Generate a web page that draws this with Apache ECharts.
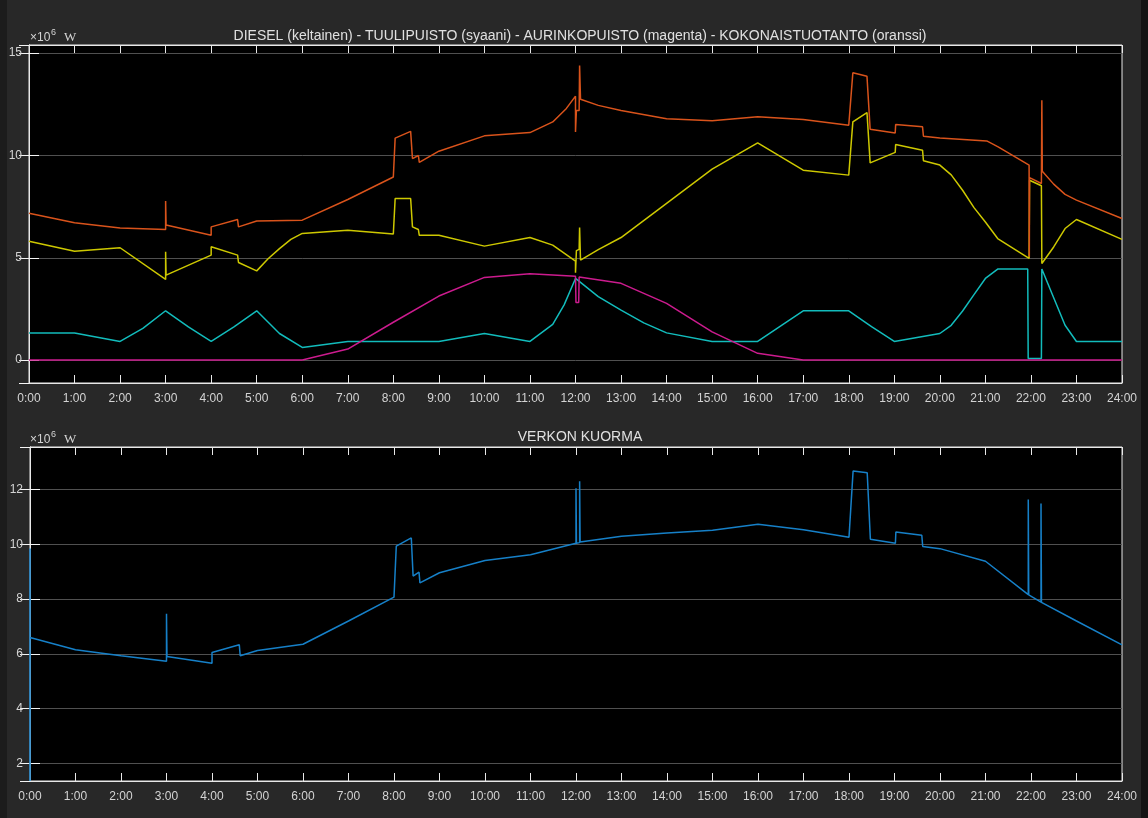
<!DOCTYPE html>
<html>
<head>
<meta charset="utf-8">
<title>Tuotanto ja verkon kuorma</title>
<script src="https://cdn.jsdelivr.net/npm/echarts@6/dist/echarts.min.js"></script>
<style>
  html, body { margin: 0; padding: 0; background: #282828; }
  #chart { width: 1148px; height: 818px; }
</style>
</head>
<body>
<div id="chart"></div>
<script>
// Time in hours (0..24), power in units of 10^6 W.

// DIESEL (keltainen)
const dieselT = [0, 1, 2, 3.0, 3.0, 3.01, 4.0, 4.0, 4.58, 4.6, 5.0, 5.25, 5.5, 5.75, 6.0, 7.0, 8.0, 8.04, 8.38, 8.42, 8.55, 8.57, 9.0, 10.0, 11.0, 11.5, 12.0, 12.0, 12.02, 12.08, 12.09, 12.11, 12.5, 13.0, 14.0, 15.0, 16.0, 17.0, 18.0, 18.09, 18.4, 18.47, 19.02, 19.03, 19.62, 19.64, 20.0, 20.25, 20.5, 20.75, 21.0, 21.27, 21.96, 21.97, 22.23, 22.24, 22.5, 22.75, 23.0, 24.0];
const dieselV = [5.81, 5.32, 5.49, 3.94, 5.29, 4.15, 5.13, 5.54, 5.13, 4.77, 4.36, 4.95, 5.45, 5.9, 6.19, 6.35, 6.16, 7.9, 7.9, 6.51, 6.38, 6.1, 6.1, 5.57, 5.99, 5.62, 4.84, 4.27, 5.35, 5.41, 6.48, 4.89, 5.4, 5.99, 7.66, 9.33, 10.62, 9.28, 9.04, 11.64, 12.1, 9.64, 10.15, 10.54, 10.26, 9.74, 9.53, 9.05, 8.3, 7.45, 6.75, 5.94, 4.97, 8.79, 8.52, 4.72, 5.53, 6.43, 6.87, 5.9];

// TUULIPUISTO (syaani)
const windT = [0, 1, 2, 2.5, 3, 3.5, 4, 4.5, 5, 5.5, 6, 7, 8, 9, 10, 11, 11.5, 11.75, 12.0, 12.5, 13, 13.5, 14, 15, 16, 16.5, 17, 18, 18.5, 19, 20, 20.25, 20.5, 20.75, 21.0, 21.27, 21.93, 21.94, 22.23, 22.24, 22.5, 22.75, 23, 24];
const windV = [1.32, 1.32, 0.91, 1.55, 2.41, 1.62, 0.91, 1.62, 2.41, 1.3, 0.62, 0.91, 0.91, 0.91, 1.3, 0.91, 1.75, 2.7, 3.99, 3.1, 2.44, 1.82, 1.33, 0.91, 0.91, 1.66, 2.41, 2.41, 1.63, 0.91, 1.3, 1.7, 2.4, 3.2, 3.99, 4.45, 4.45, 0.08, 0.08, 4.45, 3.05, 1.7, 0.91, 0.91];

// AURINKOPUISTO (magenta)
const solarT = [0, 6.0, 7.0, 8.0, 9.0, 10.0, 11.0, 12.0, 12.01, 12.07, 12.08, 13.0, 14.0, 15.0, 15.5, 16.0, 17.0, 24.0];
const solarV = [0, 0, 0.54, 1.85, 3.13, 4.04, 4.22, 4.1, 2.82, 2.82, 4.06, 3.75, 2.77, 1.38, 0.85, 0.33, 0, 0];

// KOKONAISTUOTANTO (oranssi)
const totalT = [0, 1, 2, 3.0, 3.0, 3.01, 4.0, 4.0, 4.58, 4.6, 5.0, 6.0, 7.0, 8.0, 8.04, 8.38, 8.42, 8.55, 8.57, 9.0, 10.0, 11.0, 11.5, 11.8, 12.0, 12.0, 12.02, 12.08, 12.09, 12.11, 12.5, 13.0, 14.0, 15.0, 16.0, 17.0, 18.0, 18.09, 18.4, 18.47, 19.02, 19.03, 19.62, 19.64, 20.0, 21.03, 21.28, 21.96, 21.965, 21.97, 22.23, 22.24, 22.25, 22.5, 22.75, 23.0, 24.0];
const totalV = [7.18, 6.71, 6.46, 6.38, 7.77, 6.6, 6.1, 6.51, 6.87, 6.51, 6.8, 6.84, 7.85, 8.95, 10.85, 11.18, 9.85, 10.0, 9.66, 10.21, 10.96, 11.12, 11.64, 12.3, 12.9, 11.15, 12.2, 12.2, 14.4, 12.75, 12.45, 12.2, 11.8, 11.7, 11.89, 11.76, 11.48, 14.04, 13.87, 11.28, 11.1, 11.51, 11.4, 10.94, 10.85, 10.71, 10.42, 9.53, 5.05, 8.92, 8.63, 12.7, 9.23, 8.6, 8.1, 7.82, 6.92];

// VERKON KUORMA
const loadT = [0, 0, 0, 1, 2, 3, 3, 3.01, 4, 4, 4.6, 4.62, 5, 6, 7, 8, 8.05, 8.38, 8.42, 8.55, 8.57, 9, 10, 11, 12, 12, 12.01, 12.08, 12.08, 12.09, 13, 14, 15, 16, 17, 18, 18.09, 18.4, 18.47, 19.02, 19.03, 19.6, 19.62, 20, 21, 21.94, 21.94, 21.95, 22.22, 22.22, 22.23, 23, 24];
const loadV = [9.85, 1.36, 6.6, 6.15, 5.93, 5.73, 7.46, 5.9, 5.66, 6.05, 6.33, 5.93, 6.12, 6.35, 7.2, 8.07, 9.93, 10.23, 8.84, 8.98, 8.59, 8.96, 9.41, 9.62, 10.04, 12.04, 10.04, 10.06, 12.3, 10.08, 10.29, 10.41, 10.51, 10.73, 10.53, 10.26, 12.67, 12.61, 10.18, 10.04, 10.45, 10.33, 9.92, 9.84, 9.38, 8.16, 11.63, 8.15, 7.89, 11.49, 7.88, 7.2, 6.33];

// Axis settings
const hourTicks = 1;
const topRange = [-1.12, 15.4];
const bottomRange = [1.36, 13.55];

const pairs = (t, v) => t.map((x, i) => [x, v[i]]);

const TXT = '#d4d4d4';
const AXIS = '#e8e8e8';
const GRIDLINE = '#505050';
const FONT = '"Liberation Sans", Arial, sans-serif';

function xAxes(gi) {
  const base = {
    type: 'value', gridIndex: gi, min: 0, max: 24, interval: hourTicks,
    axisLine: { show: true, onZero: false, lineStyle: { color: AXIS, width: 1 } },
    axisTick: { show: true, inside: true, length: 8, lineStyle: { color: AXIS } },
    splitLine: { show: false }
  };
  return [
    Object.assign({}, base, {
      position: 'bottom',
      axisLabel: { color: TXT, fontSize: 12, fontFamily: FONT, margin: 10, formatter: v => v + ':00' }
    }),
    Object.assign({}, base, { position: 'top', axisLabel: { show: false } })
  ];
}

function yAxes(gi, range, split, step) {
  const base = {
    type: 'value', gridIndex: gi, min: range[0], max: range[1], splitNumber: split,
    axisLine: { show: true, lineStyle: { color: AXIS, width: 1 } },
    axisTick: { show: true, inside: true, length: 10, lineStyle: { color: '#f4f4f4' } }
  };
  const isMajor = v => Math.abs(v / step - Math.round(v / step)) < 1e-6;
  return [
    Object.assign({}, base, {
      position: 'left',
      splitLine: { show: true, lineStyle: { color: GRIDLINE, width: 1 } },
      axisLabel: { color: TXT, fontSize: 12, fontFamily: FONT, margin: 7,
                   showMinLabel: false, showMaxLabel: false,
                   formatter: v => (isMajor(v) ? String(Math.round(v)) : '') }
    }),
    Object.assign({}, base, { position: 'right', splitLine: { show: false }, axisLabel: { show: false } })
  ];
}

function line(name, xi, yi, data, color) {
  return {
    name, type: 'line', xAxisIndex: xi, yAxisIndex: yi, data,
    showSymbol: false, symbol: 'none', smooth: false,
    lineStyle: { color, width: 1.5 }, itemStyle: { color },
    emphasis: { disabled: true }, silent: true, clip: true
  };
}

const chart = echarts.init(document.getElementById('chart'), null, { renderer: 'canvas' });

const unitLabel = (x, y) => [
  { type: 'text', left: x, top: y + 4, style: { text: '×10', fill: TXT, font: '12px ' + FONT } },
  { type: 'text', left: x + 21, top: y, style: { text: '6', fill: TXT, font: '9px ' + FONT } },
  { type: 'text', left: x + 34, top: y + 3, style: { text: 'W', fill: TXT, font: '13px "Liberation Serif", "DejaVu Serif", serif' } }
];

chart.setOption({
  backgroundColor: '#282828',
  animation: false,
  title: [
    { text: 'DIESEL (keltainen) - TUULIPUISTO (syaani) - AURINKOPUISTO (magenta) - KOKONAISTUOTANTO (oranssi)',
      left: 575, top: 24, textAlign: 'center',
      textStyle: { color: '#e0e0e0', fontSize: 14, fontWeight: 'normal', fontFamily: FONT } },
    { text: 'VERKON KUORMA', left: 575, top: 425, textAlign: 'center',
      textStyle: { color: '#e0e0e0', fontSize: 14, fontWeight: 'normal', fontFamily: FONT } }
  ],
  graphic: [
    { type: 'rect', left: 0, top: 0, shape: { width: 7, height: 818 }, style: { fill: '#1c1c1c' }, silent: true },
    { type: 'rect', left: 1141, top: 0, shape: { width: 7, height: 818 }, style: { fill: '#141414' }, silent: true }
  ].concat(unitLabel(30, 28), unitLabel(30, 430)),
  grid: [
    { left: 29, right: 26, top: 45, height: 338, show: true, backgroundColor: '#000', borderColor: AXIS, borderWidth: 1 },
    { left: 30, right: 26, top: 447, height: 334, show: true, backgroundColor: '#000', borderColor: AXIS, borderWidth: 1 }
  ],
  xAxis: xAxes(0).concat(xAxes(1)),
  yAxis: yAxes(0, topRange, 3, 5).concat(yAxes(1, bottomRange, 6, 2)),
  series: [
    line('DIESEL', 0, 0, pairs(dieselT, dieselV), '#cdc800'),
    line('TUULIPUISTO', 0, 0, pairs(windT, windV), '#12bcbc'),
    line('AURINKOPUISTO', 0, 0, pairs(solarT, solarV), '#cc1b8e'),
    line('KOKONAISTUOTANTO', 0, 0, pairs(totalT, totalV), '#d9531b'),
    line('VERKON KUORMA', 2, 2, pairs(loadT, loadV), '#1680c8')
  ]
});
</script>
</body>
</html>
